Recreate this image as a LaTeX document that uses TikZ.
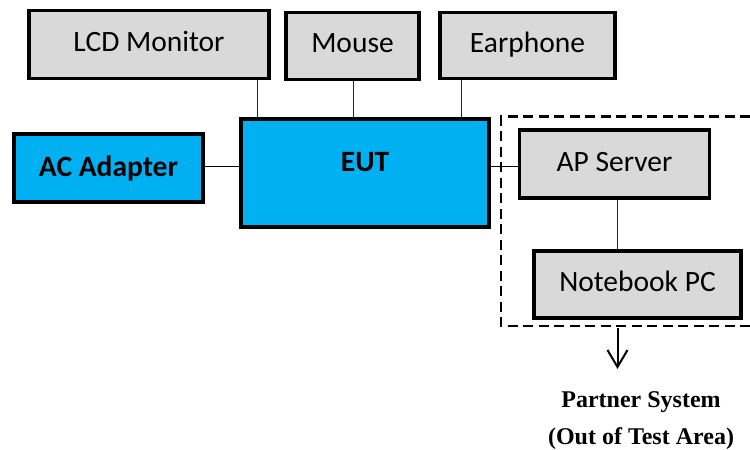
\documentclass[tikz,border=0pt]{standalone}
\usepackage{fontspec}
\setmainfont{Carlito}
\newfontfamily\serifbold{Liberation Serif}
\definecolor{boxgrey}{RGB}{217,217,217}
\definecolor{boxblue}{RGB}{0,176,240}
\begin{document}
\begin{tikzpicture}[x=1pt,y=-1pt,
 every node/.style={inner sep=0},
 greybox/.style={draw=black,line width=3.8pt,fill=boxgrey,font=\fontsize{29.5}{34}\selectfont},
 bluebox/.style={draw=black,line width=3.8pt,fill=boxblue,font=\bfseries\fontsize{29.5}{34}\selectfont},
 link/.style={draw=black!85,line width=1pt},
 boundary/.style={line width=2.4pt,dash pattern=on 10pt off 5.5pt},
 caption/.style={font=\serifbold\bfseries\fontsize{24}{28}\selectfont}]
\path[use as bounding box] (0,0) rectangle (750,450);
\node[greybox,minimum width=240pt,minimum height=68pt] (lcd) at (149,44.5) {\raisebox{7pt}{LCD Monitor}};
\node[greybox,minimum width=133pt,minimum height=67pt] (mouse) at (352.5,46) {\raisebox{6pt}{Mouse}};
\node[greybox,minimum width=175pt,minimum height=66pt] (ear) at (527.5,45.5) {\raisebox{6pt}{Earphone}};
\node[bluebox,minimum width=189pt,minimum height=68pt] (ac) at (108.5,168) {AC Adapter};
\node[bluebox,minimum width=248pt,minimum height=108pt] (eut) at (365,173) {\raisebox{22pt}{EUT}};
\node[greybox,minimum width=190pt,minimum height=68pt] (ap) at (614.5,164) {\raisebox{5pt}{AP Server}};
\node[greybox,minimum width=207pt,minimum height=67pt] (nb) at (637.5,284.5) {\raisebox{6pt}{Notebook PC}};
\coordinate (x1) at (257,0);
\coordinate (x2) at (353,0);
\coordinate (x3) at (461,0);
\coordinate (x4) at (617.5,0);
\coordinate (y1) at (0,166);
\draw[link] (x1|-lcd.south) -- (x1|-eut.north);
\draw[link] (x2|-mouse.south) -- (x2|-eut.north);
\draw[link] (x3|-ear.south) -- (x3|-eut.north);
\draw[link,black] (y1-|ac.east) -- (y1-|eut.west);
\draw[link,black] (y1-|eut.east) -- (y1-|ap.west);
\draw[link] (x4|-ap.south) -- (x4|-nb.north);
\coordinate (dbl) at (501,326);
\coordinate (dtl) at (501,116.5);
\coordinate (dtr) at (750,116.5);
\coordinate (dbr) at (750,326);
\draw[boundary] (dtr) -- (dtl) -- (dbl) -- (dbr);
\coordinate (tip) at (617.5,367);
\coordinate (tail) at (617.5,328);
\draw[line width=2pt] (tail) -- (tip);
\draw[line width=2pt] (607.5,350) -- (tip) -- (627.5,350);
\node[caption] (p1) at (641,402) {Partner System};
\node[caption] (p2) at (641,439) {(Out of Test Area)};
\end{tikzpicture}
\end{document}
